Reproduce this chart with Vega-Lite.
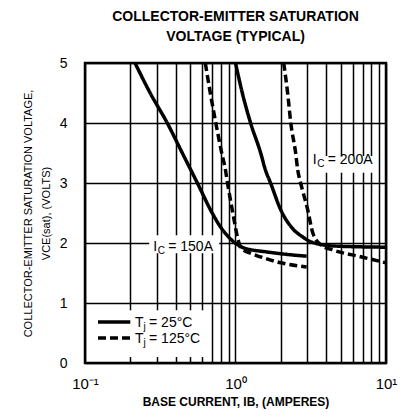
{
  "$schema": "https://vega.github.io/schema/vega-lite/v6.json",
  "width": 301,
  "height": 300,
  "autosize": "none",
  "padding": {"left": 85, "top": 63, "right": 16, "bottom": 57},
  "background": "white",
  "config": {
    "font": "Liberation Sans",
    "view": {"stroke": "black", "strokeWidth": 2.5}
  },
  "title": {
    "text": ["COLLECTOR-EMITTER SATURATION", "VOLTAGE (TYPICAL)"],
    "font": "Liberation Sans",
    "fontSize": 14,
    "fontWeight": "bold",
    "lineHeight": 20,
    "offset": 12,
    "anchor": "middle",
    "color": "black"
  },
  "datasets": {
    "curves": [
      {"series": "150A-25", "tj": "25°C", "ib": 0.215, "v": 5.0},
      {"series": "150A-25", "tj": "25°C", "ib": 0.271, "v": 4.5},
      {"series": "150A-25", "tj": "25°C", "ib": 0.352, "v": 4.0},
      {"series": "150A-25", "tj": "25°C", "ib": 0.443, "v": 3.5},
      {"series": "150A-25", "tj": "25°C", "ib": 0.558, "v": 3.0},
      {"series": "150A-25", "tj": "25°C", "ib": 0.70, "v": 2.5},
      {"series": "150A-25", "tj": "25°C", "ib": 0.794, "v": 2.27},
      {"series": "150A-25", "tj": "25°C", "ib": 0.90, "v": 2.1},
      {"series": "150A-25", "tj": "25°C", "ib": 0.97, "v": 2.02},
      {"series": "150A-25", "tj": "25°C", "ib": 1.05, "v": 1.96},
      {"series": "150A-25", "tj": "25°C", "ib": 1.13, "v": 1.92},
      {"series": "150A-25", "tj": "25°C", "ib": 1.63, "v": 1.85},
      {"series": "150A-25", "tj": "25°C", "ib": 2.2, "v": 1.81},
      {"series": "150A-25", "tj": "25°C", "ib": 2.97, "v": 1.78},
      {"series": "150A-125", "tj": "125°C", "ib": 0.63, "v": 5.0},
      {"series": "150A-125", "tj": "125°C", "ib": 0.68, "v": 4.5},
      {"series": "150A-125", "tj": "125°C", "ib": 0.74, "v": 4.0},
      {"series": "150A-125", "tj": "125°C", "ib": 0.81, "v": 3.5},
      {"series": "150A-125", "tj": "125°C", "ib": 0.857, "v": 3.22},
      {"series": "150A-125", "tj": "125°C", "ib": 0.885, "v": 3.0},
      {"series": "150A-125", "tj": "125°C", "ib": 0.96, "v": 2.5},
      {"series": "150A-125", "tj": "125°C", "ib": 1.03, "v": 2.1},
      {"series": "150A-125", "tj": "125°C", "ib": 1.07, "v": 1.95},
      {"series": "150A-125", "tj": "125°C", "ib": 1.15, "v": 1.87},
      {"series": "150A-125", "tj": "125°C", "ib": 1.26, "v": 1.83},
      {"series": "150A-125", "tj": "125°C", "ib": 2.0, "v": 1.67},
      {"series": "150A-125", "tj": "125°C", "ib": 2.97, "v": 1.6},
      {"series": "200A-25", "tj": "25°C", "ib": 1.0, "v": 5.0},
      {"series": "200A-25", "tj": "25°C", "ib": 1.11, "v": 4.5},
      {"series": "200A-25", "tj": "25°C", "ib": 1.26, "v": 4.0},
      {"series": "200A-25", "tj": "25°C", "ib": 1.47, "v": 3.5},
      {"series": "200A-25", "tj": "25°C", "ib": 1.58, "v": 3.22},
      {"series": "200A-25", "tj": "25°C", "ib": 1.71, "v": 3.0},
      {"series": "200A-25", "tj": "25°C", "ib": 2.0, "v": 2.55},
      {"series": "200A-25", "tj": "25°C", "ib": 2.44, "v": 2.22},
      {"series": "200A-25", "tj": "25°C", "ib": 2.8, "v": 2.1},
      {"series": "200A-25", "tj": "25°C", "ib": 3.16, "v": 2.02},
      {"series": "200A-25", "tj": "25°C", "ib": 4.5, "v": 1.95},
      {"series": "200A-25", "tj": "25°C", "ib": 10, "v": 1.93},
      {"series": "200A-125", "tj": "125°C", "ib": 2.09, "v": 5.0},
      {"series": "200A-125", "tj": "125°C", "ib": 2.22, "v": 4.5},
      {"series": "200A-125", "tj": "125°C", "ib": 2.33, "v": 4.0},
      {"series": "200A-125", "tj": "125°C", "ib": 2.51, "v": 3.5},
      {"series": "200A-125", "tj": "125°C", "ib": 2.59, "v": 3.22},
      {"series": "200A-125", "tj": "125°C", "ib": 2.71, "v": 3.0},
      {"series": "200A-125", "tj": "125°C", "ib": 3.02, "v": 2.55},
      {"series": "200A-125", "tj": "125°C", "ib": 3.26, "v": 2.17},
      {"series": "200A-125", "tj": "125°C", "ib": 3.69, "v": 1.97},
      {"series": "200A-125", "tj": "125°C", "ib": 4.5, "v": 1.88},
      {"series": "200A-125", "tj": "125°C", "ib": 6.8, "v": 1.77},
      {"series": "200A-125", "tj": "125°C", "ib": 10, "v": 1.67}
    ],
    "boxes": [
      {"x1": 0.12, "x2": 0.65, "y1": 0.1, "y2": 0.88},
      {"x1": 0.267, "x2": 0.78, "y1": 1.83, "y2": 2.13},
      {"x1": 3.07, "x2": 8.7, "y1": 3.17, "y2": 3.45}
    ],
    "notes": [
      {"x": 0.284, "y": 1.87, "sub": "C", "val": "= 150A"},
      {"x": 3.26, "y": 3.32, "sub": "C", "val": "= 200A"}
    ],
    "keys": [
      {"tj": "25°C", "x1": 0.122, "x2": 0.2, "y": 0.683, "tx": 0.215, "ty": 0.6, "sub": "j", "val": "= 25°C"},
      {"tj": "125°C", "x1": 0.122, "x2": 0.2, "y": 0.417, "tx": 0.215, "ty": 0.33, "sub": "j", "val": "= 125°C"}
    ]
  },
  "layer": [
    {
      "data": {"name": "boxes"},
      "mark": {"type": "rect", "fill": "white", "stroke": null},
      "encoding": {
        "x": {
          "field": "x1", "type": "quantitative",
          "scale": {"type": "log", "domain": [0.1, 10], "nice": false},
          "axis": {
            "values": [0.1, 0.2, 0.3, 0.4, 0.5, 0.6, 0.7, 0.8, 0.9, 1, 2, 3, 4, 5, 6, 7, 8, 9, 10],
            "labelExpr": "datum.value == 0.1 ? '10⁻¹' : datum.value == 1 ? '10⁰' : datum.value == 10 ? '10¹' : ''",
            "grid": true, "gridColor": "black", "gridWidth": 1.5, "gridOpacity": 1,
            "ticks": false, "domain": false,
            "labelFontSize": 15, "labelColor": "black", "labelPadding": 13,
            "labelFlush": false, "labelOverlap": false, "labelBound": false,
            "title": "BASE CURRENT, IB, (AMPERES)",
            "titleFontSize": 12, "titleFontWeight": "bold", "titleColor": "black", "titlePadding": 5
          }
        },
        "x2": {"field": "x2"},
        "y": {
          "field": "y1", "type": "quantitative",
          "scale": {"domain": [0, 5], "nice": false},
          "axis": {
            "values": [0, 0.5, 1, 1.5, 2, 2.5, 3, 3.5, 4, 4.5, 5],
            "labelExpr": "datum.value % 1 == 0 ? format(datum.value, 'd') : ''",
            "grid": true, "gridColor": "black", "gridWidth": 1.5, "gridOpacity": 1,
            "ticks": false, "domain": false,
            "labelFontSize": 14, "labelColor": "black", "labelPadding": 18,
            "labelFlush": false, "labelOverlap": false,
            "title": ["COLLECTOR-EMITTER SATURATION VOLTAGE,", "VCE(sat), (VOLTS)"],
            "titleFontSize": 11, "titleFontWeight": "normal", "titleColor": "black",
            "titleLineHeight": 18, "titlePadding": 8
          }
        },
        "y2": {"field": "y2"}
      }
    },
    {
      "data": {"name": "curves"},
      "mark": {"type": "line", "interpolate": "monotone", "strokeWidth": 3.5, "color": "black", "clip": true},
      "encoding": {
        "x": {"field": "ib", "type": "quantitative", "scale": {"type": "log", "domain": [0.1, 10], "nice": false}},
        "y": {"field": "v", "type": "quantitative", "scale": {"domain": [0, 5], "nice": false}},
        "detail": {"field": "series"},
        "strokeDash": {
          "field": "tj", "type": "nominal",
          "scale": {"domain": ["25°C", "125°C"], "range": [[1, 0], [8, 4]]},
          "legend": null
        }
      }
    },
    {
      "data": {"name": "keys"},
      "mark": {"type": "rule", "strokeWidth": 3.5, "color": "black"},
      "encoding": {
        "x": {"field": "x1", "type": "quantitative", "scale": {"type": "log", "domain": [0.1, 10], "nice": false}},
        "x2": {"field": "x2"},
        "y": {"field": "y", "type": "quantitative", "scale": {"domain": [0, 5], "nice": false}},
        "strokeDash": {"field": "tj", "type": "nominal", "scale": {"domain": ["25°C", "125°C"], "range": [[1, 0], [8, 4]]}, "legend": null}
      }
    },
    {
      "data": {"name": "keys"},
      "mark": {"type": "text", "align": "left", "baseline": "alphabetic", "fontSize": 14, "color": "black"},
      "encoding": {
        "x": {"field": "tx", "type": "quantitative", "scale": {"type": "log", "domain": [0.1, 10], "nice": false}},
        "y": {"field": "ty", "type": "quantitative", "scale": {"domain": [0, 5], "nice": false}},
        "text": {"value": "T"}
      }
    },
    {
      "data": {"name": "keys"},
      "mark": {"type": "text", "align": "left", "baseline": "alphabetic", "fontSize": 10, "dx": 8.5, "dy": 3, "color": "black"},
      "encoding": {
        "x": {"field": "tx", "type": "quantitative", "scale": {"type": "log", "domain": [0.1, 10], "nice": false}},
        "y": {"field": "ty", "type": "quantitative", "scale": {"domain": [0, 5], "nice": false}},
        "text": {"field": "sub"}
      }
    },
    {
      "data": {"name": "keys"},
      "mark": {"type": "text", "align": "left", "baseline": "alphabetic", "fontSize": 14, "dx": 14, "color": "black"},
      "encoding": {
        "x": {"field": "tx", "type": "quantitative", "scale": {"type": "log", "domain": [0.1, 10], "nice": false}},
        "y": {"field": "ty", "type": "quantitative", "scale": {"domain": [0, 5], "nice": false}},
        "text": {"field": "val"}
      }
    },
    {
      "data": {"name": "notes"},
      "mark": {"type": "text", "align": "left", "baseline": "alphabetic", "fontSize": 14, "color": "black"},
      "encoding": {
        "x": {"field": "x", "type": "quantitative", "scale": {"type": "log", "domain": [0.1, 10], "nice": false}},
        "y": {"field": "y", "type": "quantitative", "scale": {"domain": [0, 5], "nice": false}},
        "text": {"value": "I"}
      }
    },
    {
      "data": {"name": "notes"},
      "mark": {"type": "text", "align": "left", "baseline": "alphabetic", "fontSize": 10, "dx": 4.5, "dy": 3, "color": "black"},
      "encoding": {
        "x": {"field": "x", "type": "quantitative", "scale": {"type": "log", "domain": [0.1, 10], "nice": false}},
        "y": {"field": "y", "type": "quantitative", "scale": {"domain": [0, 5], "nice": false}},
        "text": {"field": "sub"}
      }
    },
    {
      "data": {"name": "notes"},
      "mark": {"type": "text", "align": "left", "baseline": "alphabetic", "fontSize": 14, "dx": 15, "color": "black"},
      "encoding": {
        "x": {"field": "x", "type": "quantitative", "scale": {"type": "log", "domain": [0.1, 10], "nice": false}},
        "y": {"field": "y", "type": "quantitative", "scale": {"domain": [0, 5], "nice": false}},
        "text": {"field": "val"}
      }
    }
  ]
}
